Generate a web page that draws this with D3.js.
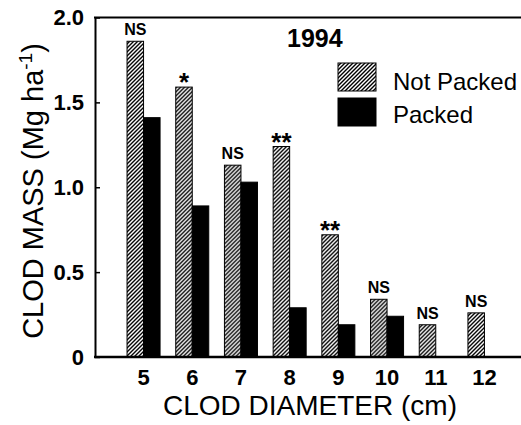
<!DOCTYPE html>
<html>
<head>
<meta charset="utf-8">
<script src="https://cdn.jsdelivr.net/npm/d3@7"></script>
<style>
  body { margin: 0; background: #fff; }
  text { font-family: "Liberation Sans", Arial, Helvetica, sans-serif; fill: #000; }
</style>
</head>
<body>
<script>
// Data
var diameters = ["5", "6", "7", "8", "9", "10", "11", "12"];
var notPacked = [1.86, 1.59, 1.13, 1.24, 0.72, 0.34, 0.19, 0.26];
var packed = [1.41, 0.89, 1.03, 0.29, 0.19, 0.24, 0, 0];
var signif = ["NS", "*", "NS", "**", "**", "NS", "NS", "NS"];
var series = ["Not Packed", "Packed"];
var yTicks = [0, 0.5, 1.0, 1.5, 2.0];

var W = 521, H = 425;
var pLeft = 95, pRight = 521, pTop = 17.5, pBottom = 357;

// svg container
var svg = d3.select("body").append("svg").attr("width", W).attr("height", H);

// hatch pattern for the not packed bars
var defs = svg.append("defs");
defs.append("pattern").attr("id", "hatch")
    .attr("patternUnits", "userSpaceOnUse")
    .attr("width", 4).attr("height", 4)
  .append("path")
    .attr("d", "M0,4 L4,0 M-1,1 L1,-1 M3,5 L5,3")
    .attr("stroke", "#000").attr("stroke-width", 1.4);

// scales
var x = d3.scaleBand().domain(diameters).range([119.2, 508.8]).paddingInner(0.322).paddingOuter(0.161);
var xs = d3.scaleBand().domain(series).range([0, x.bandwidth()]);
var y = d3.scaleLinear().domain([0, 2]).range([pBottom, pTop]);

var rows = diameters.map(function(d, i) {
    return { dia: d, vals: [notPacked[i], packed[i]], sig: signif[i] };
});

// bars
var groups = svg.selectAll("g.grp").data(rows).enter().append("g")
    .attr("class", "grp")
    .attr("transform", function(d) { return "translate(" + x(d.dia) + ",0)"; });

groups.selectAll("rect").data(function(d) {
    return d.vals.map(function(v, j) { return { s: series[j], v: v }; }).filter(function(e) { return e.v > 0; });
}).enter().append("rect")
    .attr("x", function(d) { return xs(d.s); })
    .attr("y", function(d) { return y(d.v); })
    .attr("width", xs.bandwidth())
    .attr("height", function(d) { return pBottom - y(d.v); })
    .attr("fill", function(d) { return d.s == "Packed" ? "#000" : "url(#hatch)"; })
    .attr("stroke", "#000").attr("stroke-width", 1);

// significance labels above the not packed bars
groups.append("text")
    .attr("x", xs("Not Packed") + xs.bandwidth() / 2)
    .attr("y", function(d) { return d.sig == "NS" ? y(d.vals[0]) - 6 : y(d.vals[0]) + 4; })
    .attr("text-anchor", "middle")
    .style("font-weight", "bold")
    .style("font-size", function(d) { return d.sig == "NS" ? "16px" : "26px"; })
    .text(function(d) { return d.sig; });

// y axis, ticks pointing inward
var yAxis = svg.append("g").attr("transform", "translate(" + pLeft + ",0)")
    .call(d3.axisLeft(y).tickValues(yTicks).tickSize(-5).tickSizeOuter(0).tickPadding(11)
        .tickFormat(function(d) { return d == 0 ? "0" : d3.format(".1f")(d); }));
yAxis.select(".domain").attr("stroke-width", 2);
yAxis.selectAll(".tick line").attr("stroke-width", 1.5);
yAxis.selectAll("text").style("font-size", "22px").style("font-weight", "bold")
    .style("font-family", "Liberation Sans, Arial, sans-serif");

// x axis labels
var xAxis = svg.append("g").attr("transform", "translate(0," + pBottom + ")")
    .call(d3.axisBottom(x).tickSize(0).tickPadding(12));
xAxis.select(".domain").remove();
xAxis.selectAll("text").style("font-size", "22px").style("font-weight", "bold")
    .style("font-family", "Liberation Sans, Arial, sans-serif");

// baseline and top frame line
svg.append("line").attr("x1", pLeft - 1).attr("x2", pRight).attr("y1", pBottom).attr("y2", pBottom)
    .attr("stroke", "#000").attr("stroke-width", 2.5);
svg.append("line").attr("x1", pLeft - 1).attr("x2", pRight).attr("y1", y(2)).attr("y2", y(2))
    .attr("stroke", "#000").attr("stroke-width", 2);

// axis titles
svg.append("text").attr("x", 310).attr("y", 415).attr("text-anchor", "middle")
    .style("font-size", "28px").text("CLOD DIAMETER (cm)");
var yt = svg.append("text").attr("transform", "translate(43,191) rotate(-90)")
    .attr("text-anchor", "middle").style("font-size", "29px");
yt.append("tspan").text("CLOD MASS (Mg ha");
yt.append("tspan").attr("dy", -11).style("font-size", "19px").text("-1");
yt.append("tspan").attr("dy", 11).text(")");

// year
svg.append("text").attr("x", 287).attr("y", 47).style("font-size", "25px").style("font-weight", "bold").text("1994");

// legend
var legend = svg.append("g");
legend.selectAll("rect").data(series).enter().append("rect")
    .attr("x", 338)
    .attr("y", function(d, i) { return 63 + i * 35; })
    .attr("width", 38).attr("height", 28)
    .attr("fill", function(d) { return d == "Packed" ? "#000" : "url(#hatch)"; })
    .attr("stroke", "#000").attr("stroke-width", 1);
legend.selectAll("text").data(series).enter().append("text")
    .attr("x", 393)
    .attr("y", function(d, i) { return 90 + i * 33; })
    .style("font-size", "24px")
    .text(function(d) { return d; });
</script>
</body>
</html>
